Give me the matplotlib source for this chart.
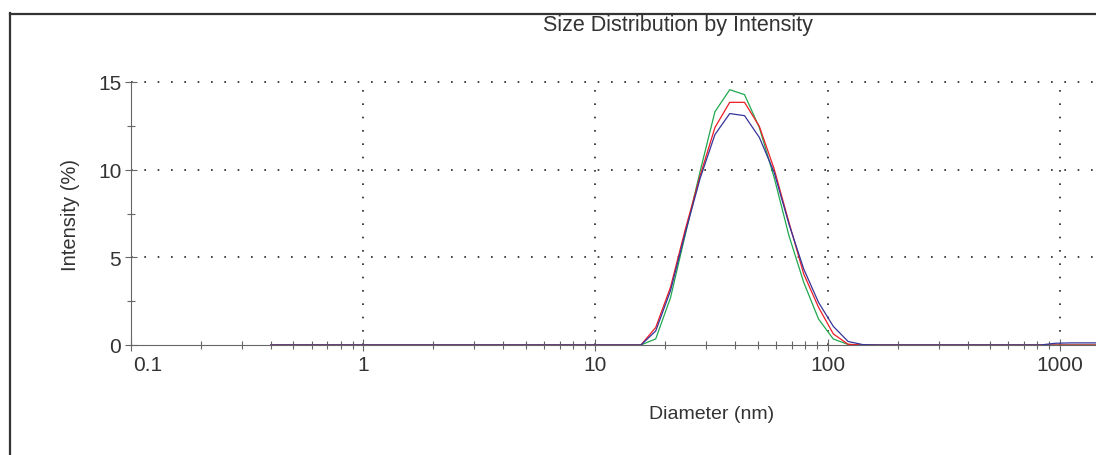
import matplotlib
matplotlib.use("Agg")
import matplotlib.pyplot as plt
import matplotlib.transforms as mtransforms
from matplotlib.ticker import FixedLocator, NullFormatter, FixedFormatter
from matplotlib.lines import Line2D

plt.rcParams['font.family'] = ['Liberation Sans', 'DejaVu Sans']

diameter_nm = [0.4000, 0.4632, 0.5365, 0.6213, 0.7195, 0.8332, 0.9649, 1.117, 1.294, 1.499,
               1.736, 2.010, 2.328, 2.696, 3.122, 3.615, 4.187, 4.849, 5.615, 6.503,
               7.531, 8.721, 10.10, 11.70, 13.54, 15.69, 18.17, 21.04, 24.36, 28.21,
               32.67, 37.84, 43.82, 50.75, 58.77, 68.06, 78.82, 91.28, 105.7, 122.4,
               141.8, 164.2, 190.1, 220.2, 255.0, 295.3, 342.0, 396.1, 458.7, 531.2,
               615.1, 712.4, 825.0, 955.4, 1106, 1281, 1484, 1718]

zeros26 = [0.0] * 26
green_pct = zeros26 + [0.35, 2.7, 6.3, 9.9, 13.3, 14.56, 14.28, 12.4, 9.56, 6.24, 3.57, 1.48, 0.34, 0.03, 0.0] + \
            [0.0] * 17
red_pct = zeros26 + [1.0, 3.3, 6.6, 9.65, 12.4, 13.84, 13.84, 12.47, 10.04, 7.0, 4.05, 2.15, 0.63, 0.04, 0.0] + \
          [0.0] * 17
blue_pct = zeros26 + [0.8, 3.1, 6.4, 9.5, 12.0, 13.2, 13.08, 11.84, 9.85, 6.9, 4.33, 2.43, 1.06, 0.2, 0.02] + \
           [0.0] * 12 + [0.1, 0.12, 0.12, 0.12, 0.12]

x_major = [0.1, 1, 10, 100, 1000]
x_major_labels = ['0.1', '1', '10', '100', '1000']
y_major = [0, 5, 10, 15]
y_minor = [2.5, 7.5, 12.5]

title = 'Size Distribution by Intensity'
xlabel = 'Diameter (nm)'
ylabel = 'Intensity (%)'

W, H = 1096, 456
fig = plt.figure(figsize=(W / 100, H / 100), dpi=100)

# frame lines (top and left border of the figure)
fig.add_artist(Line2D([9.5 / W, 9.5 / W], [0, 1 - 14 / H], transform=fig.transFigure,
                      color='#333333', lw=1.6))
fig.add_artist(Line2D([9.5 / W, 1], [1 - 14.5 / H, 1 - 14.5 / H], transform=fig.transFigure,
                      color='#333333', lw=1.6))

ax_left = 131 / W
ax_bottom = (H - 346) / H
ax_top = (H - 83) / H
ax = fig.add_axes([ax_left, ax_bottom, 1 - ax_left, ax_top - ax_bottom])
ax.set_xscale('log')
ax.set_xlim(0.1, 10 ** (3 + (1096 - 1060) / 232.2))
ax.set_ylim(0, 15)

ax.plot(diameter_nm, green_pct, color='#1fa84f', lw=0.9, clip_on=True)
ax.plot(diameter_nm, red_pct, color='#ee1c24', lw=0.9, clip_on=True)
ax.plot(diameter_nm, blue_pct, color='#34349a', lw=0.9, clip_on=True)

for s in ['top', 'right']:
    ax.spines[s].set_visible(False)
for s in ['left', 'bottom']:
    ax.spines[s].set_color('#666666')
    ax.spines[s].set_linewidth(0.8)

ax.xaxis.set_major_locator(FixedLocator(x_major))
ax.xaxis.set_major_formatter(FixedFormatter(x_major_labels))
minor = [m * d for d in [0.1, 1, 10, 100, 1000] for m in range(2, 10)]
ax.xaxis.set_minor_locator(FixedLocator(minor))
ax.xaxis.set_minor_formatter(NullFormatter())
ax.yaxis.set_major_locator(FixedLocator(y_major))
ax.yaxis.set_minor_locator(FixedLocator(y_minor))

ax.tick_params(axis='both', which='major', direction='inout', length=8, width=0.8,
               color='#666666', labelsize=15, labelcolor='#333333')
ax.tick_params(axis='both', which='minor', direction='inout', length=6, width=0.8,
               color='#666666')
ax.tick_params(axis='x', which='major', pad=3)
ax.tick_params(axis='y', which='major', pad=3)

# shift the first x label ("0.1") right, as in the reference
fig.canvas.draw()
first_lbl = ax.get_xticklabels()[0]
first_lbl.set_transform(first_lbl.get_transform() +
                        mtransforms.ScaledTranslation(17 / 100, 0, fig.dpi_scale_trans))

dot = (0, (1, 7))
for xv in [1, 10, 100, 1000]:
    ax.axvline(xv, color='#222222', lw=1.2, ls=dot, zorder=0.5)
for yv in [5, 10, 15]:
    ax.axhline(yv, color='#222222', lw=1.2, ls=dot, zorder=0.5, clip_on=False)

fig.text(678 / W, 1 - 25 / H, title, ha='center', va='center', fontsize=15.5, color='#333333')
fig.text(712 / W, 1 - 415 / H, xlabel, ha='center', va='center', fontsize=14, color='#333333')
fig.text(70 / W, 1 - 215 / H, ylabel, ha='center', va='center', rotation=90, fontsize=14.5,
         color='#333333')

fig.savefig('out.png', dpi=100)
